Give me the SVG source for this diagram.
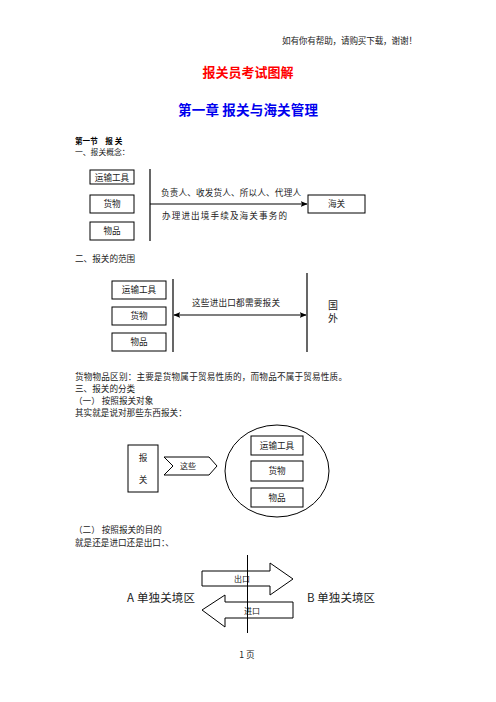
<svg xmlns="http://www.w3.org/2000/svg" width="496" height="702" viewBox="0 0 496 702">
<style>
text{font-family:"Noto Sans CJK SC","Liberation Serif",serif;fill:#222}
.t{font-size:8.6px}
.c{text-anchor:middle}
.box{fill:#fff;stroke:#000;stroke-width:1}
.ln{stroke:#000;stroke-width:1.2;fill:none}
.thin{stroke:#000;stroke-width:1;fill:none}
</style>
<defs>
<marker id="ah" viewBox="0 0 10 10" refX="9" refY="5" markerWidth="7" markerHeight="7" markerUnits="userSpaceOnUse" orient="auto-start-reverse">
<path d="M0,1 L10,5 L0,9 L2,5 Z" fill="#000"/>
</marker>
</defs>
<rect width="496" height="702" fill="#fff"/>
<g id="header">
<text x="282" y="44" class="t" textLength="135" fill="#333">如有你有帮助，请购买下载，谢谢！</text>
<text x="248" y="77" class="c" style="font-size:13px;font-weight:bold;fill:#ff0000">报关员考试图解</text>
<text x="248" y="114.5" class="c" style="font-size:13.5px;font-weight:bold;fill:#0000ee" textLength="140">第一章 报关与海关管理</text>
<text x="75" y="143.5" style="font-size:7.6px;font-weight:bold;fill:#000">第一节　报 关</text>
<text x="75" y="155" class="t" style="font-size:7.8px">一、报关概念：</text>
</g>
<g id="concept">
<g id="c1"><rect class="box" x="90" y="170" width="44" height="14"/><text x="112" y="180.5" class="t c">运输工具</text></g>
<g id="c2"><rect class="box" x="90" y="195" width="44" height="18"/><text x="112" y="207" class="t c">货物</text></g>
<g id="c3"><rect class="box" x="90" y="222" width="44" height="18"/><text x="112" y="234" class="t c">物品</text></g>
<g id="c4"><rect class="box" x="308" y="195" width="57" height="18"/><text x="336.5" y="207" class="t c">海关</text></g>
<text x="161" y="196" class="t" textLength="140">负责人、收发货人、所以人、代理人</text>
<text x="162" y="219" class="t" textLength="125">办理进出境手续及海关事务的</text>
</g>
<g id="scope">
<text x="75" y="262" class="t">二、报关的范围</text>
<g id="s1"><rect class="box" x="112" y="281" width="54" height="18"/><text x="139" y="293" class="t c">运输工具</text></g>
<g id="s2"><rect class="box" x="112" y="307" width="54" height="18"/><text x="139" y="319" class="t c">货物</text></g>
<g id="s3"><rect class="box" x="112" y="333" width="54" height="18"/><text x="139" y="345" class="t c">物品</text></g>
<text x="192" y="306" class="t" textLength="88">这些进出口都需要报关</text>
<g id="s4"><text x="333" y="308.5" class="c" style="font-size:10px">国</text><text x="333" y="322" class="c" style="font-size:10px">外</text></g>
</g>
<g id="texts">
<text x="75" y="380" class="t" textLength="272">货物物品区别：主要是货物属于贸易性质的，而物品不属于贸易性质。</text>
<text x="75" y="392" class="t">三、报关的分类</text>
<text x="74" y="404" class="t">（一） 按照报关对象</text>
<text x="75" y="416" class="t">其实就是说对那些东西报关：</text>
</g>
<g id="object">
<g id="o1"><rect class="box" x="128" y="445" width="30" height="47"/><text x="143" y="461" class="t c">报</text><text x="143" y="483" class="t c">关</text></g>
<g id="o2"><path class="thin" d="M164,457 L209,457 L217,466 L209,475 L164,475 L173,466 Z"/><text x="180" y="469" class="t" style="font-size:8px">这些</text></g>
<g id="o3"><ellipse class="thin" cx="277" cy="471" rx="52" ry="46"/></g>
<g id="o4"><rect class="box" x="251" y="436" width="52" height="19"/><text x="277" y="448.5" class="t c">运输工具</text></g>
<g id="o5"><rect class="box" x="251" y="461" width="52" height="20"/><text x="277" y="474" class="t c">货物</text></g>
<g id="o6"><rect class="box" x="251" y="488" width="52" height="19"/><text x="277" y="500.5" class="t c">物品</text></g>
</g>
<g id="purpose">
<text x="74" y="533" class="t">（二） 按照报关的目的</text>
<text x="75" y="546" class="t">就是还是进口还是出口：、</text>
<text x="127" y="602" style="font-size:11.5px" textLength="68">A 单独关境区</text>
<text x="307" y="602" style="font-size:11.5px" textLength="68">B 单独关境区</text>
<g id="p1"><path class="thin" d="M202,571 L270,571 L270,563 L293,579 L270,595 L270,586 L202,586 Z"/><text x="242" y="582" class="t c" style="font-size:8px">出口</text></g>
<g id="p2"><path class="thin" d="M293,602 L225,602 L225,595 L202,610 L225,627 L225,618 L293,618 Z"/><text x="252" y="614" class="t c" style="font-size:8px">进口</text></g>
<text x="247" y="658" class="t c">1 页</text>
</g>
<g id="connectors">
<line class="ln" x1="150" y1="169" x2="150" y2="241"/>
<line class="ln" x1="150" y1="204" x2="307" y2="204" marker-end="url(#ah)"/>
<line class="ln" x1="173" y1="279" x2="173" y2="352"/>
<line class="ln" x1="307" y1="273" x2="307" y2="352"/>
<line class="ln" x1="174" y1="315" x2="306" y2="315" marker-start="url(#ah)" marker-end="url(#ah)"/>
<line class="thin" x1="247.5" y1="555" x2="247.5" y2="633"/>
</g>
</svg>
